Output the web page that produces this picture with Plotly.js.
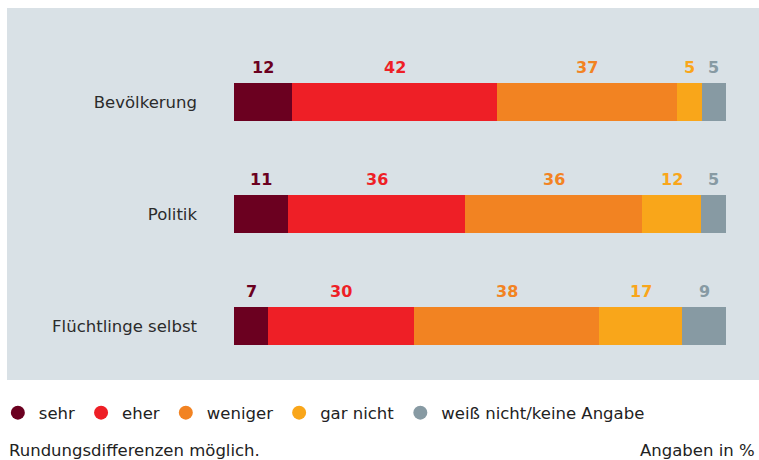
<!DOCTYPE html>
<html>
<head>
<meta charset="utf-8">
<script src="https://cdn.plot.ly/plotly-3.0.1.min.js"></script>
<style>html,body{margin:0;padding:0;background:#fff;}#chart{width:759px;height:460px;}</style>
</head>
<body>
<div id="chart"></div>
<script>
const categories = ["Bevölkerung", "Politik", "Flüchtlinge selbst"];
const seriesNames = ["sehr", "eher", "weniger", "gar nicht", "weiß nicht/keine Angabe"];
const sehr = [12, 11, 7];
const eher = [42, 36, 30];
const weniger = [37, 36, 38];
const garNicht = [5, 12, 17];
const weissNicht = [5, 5, 9];
const footLeft = "Rundungsdifferenzen möglich.";
const footRight = "Angaben in %";

const seriesValues = [sehr, eher, weniger, garNicht, weissNicht];
const colors = ["#6b0020", "#ee1f26", "#f28322", "#f9a61a", "#879aa3"];
const FONT = "'DejaVu Sans', 'Open Sans', sans-serif";

const traces = [];
seriesValues.forEach((vals, i) => {
  traces.push({
    type: "bar", orientation: "h", name: seriesNames[i],
    y: categories, x: vals, marker: {color: colors[i]},
    showlegend: false, hoverinfo: "none"
  });
});
// legend entries with circle markers
seriesValues.forEach((vals, i) => {
  traces.push({
    type: "scatter", mode: "markers", name: seriesNames[i],
    x: [null], y: [null],
    marker: {color: colors[i], size: 14, symbol: "circle"},
    showlegend: true, hoverinfo: "none"
  });
});

const annotations = [];
categories.forEach((cat, c) => {
  const total = seriesValues.reduce((s, v) => s + v[c], 0);
  let cum = 0;
  seriesValues.forEach((vals, i) => {
    const w = vals[c] / total * 100;
    annotations.push({
      xref: "x", yref: "y", x: cum + w / 2, y: cat, yshift: 35,
      text: "<b>" + String(vals[c]) + "</b>", showarrow: false,
      font: {family: FONT, size: 16, color: colors[i]}
    });
    cum += w;
  });
});
annotations.push({
  xref: "paper", yref: "paper", x: -0.461, y: -0.205, xanchor: "left", yanchor: "middle",
  text: footLeft, showarrow: false, font: {family: FONT, size: 16.5, color: "#222"}
});
annotations.push({
  xref: "paper", yref: "paper", x: 1.064, y: -0.205, xanchor: "right", yanchor: "middle",
  text: footRight, showarrow: false, font: {family: FONT, size: 16.5, color: "#222"}
});

const layout = {
  width: 759, height: 460,
  margin: {l: 234, r: 33, t: 46, b: 78, autoexpand: false},
  paper_bgcolor: "#ffffff", plot_bgcolor: "rgba(0,0,0,0)",
  barmode: "stack", barnorm: "percent", bargap: 0.66,
  xaxis: {range: [0, 100], showgrid: false, zeroline: false, showticklabels: false, showline: false,
          fixedrange: true, automargin: false},
  yaxis: {autorange: "reversed", showgrid: false, zeroline: false, showline: false, ticks: "",
          ticklabelstandoff: 36, tickfont: {family: FONT, size: 16.5, color: "#2b2b2b"},
          fixedrange: true, automargin: false},
  shapes: [{type: "rect", xref: "paper", yref: "paper", x0: -0.4614, x1: 1.07, y0: 0.006, y1: 1.113,
            fillcolor: "#d9e1e6", line: {width: 0}, layer: "below"}],
  showlegend: true,
  legend: {orientation: "h", traceorder: "normal", x: -0.482, y: -0.04, xanchor: "left", yanchor: "top",
           font: {family: FONT, size: 16.5, color: "#222"}, itemwidth: 32, tracegroupgap: 0,
           bgcolor: "rgba(0,0,0,0)"},
  annotations: annotations,
  font: {family: FONT}
};

Plotly.newPlot("chart", traces, layout, {displayModeBar: false, staticPlot: true});
</script>
</body>
</html>
